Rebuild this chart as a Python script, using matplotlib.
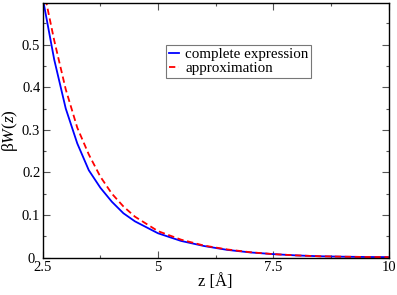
import numpy as np
import matplotlib
matplotlib.use("Agg")
import matplotlib.pyplot as plt
from matplotlib.ticker import MultipleLocator

plt.rcParams["font.family"] = ["Liberation Serif", "DejaVu Serif"]
plt.rcParams["mathtext.fontset"] = "custom"
plt.rcParams["mathtext.rm"] = "Liberation Serif"
plt.rcParams["mathtext.it"] = "Liberation Serif:italic"

# values
z = [2.5, 2.75, 3.0, 3.25, 3.5, 3.75, 4.0, 4.25, 4.5, 5.0, 5.5,
     6.0, 6.5, 7.0, 7.5, 8.0, 8.5, 9.0, 9.5, 10.0]
w_complete = [0.61, 0.465, 0.35, 0.268, 0.205, 0.164, 0.131, 0.104, 0.085,
              0.057, 0.039, 0.027, 0.018, 0.012, 0.008, 0.005, 0.003,
              0.002, 0.0013, 0.001]
w_approx = [0.64, 0.51, 0.395, 0.305, 0.242, 0.19, 0.15, 0.12, 0.096,
            0.062, 0.042, 0.028, 0.019, 0.0125, 0.008, 0.005, 0.003,
            0.002, 0.0013, 0.001]

fig = plt.figure(figsize=(3.97, 2.95), dpi=100)
ax = fig.add_axes([0.1075, 0.127, 0.8715, 0.863])

ax.plot(z, w_complete, color="#0000ff", lw=1.3, label="complete expression")
ax.plot(z, w_approx, color="#ff0000", lw=1.3, ls=(0, (3.5, 2)),
        label="approximation")

ax.set_xlim(2.5, 10)
ax.set_ylim(0, 0.598)
ax.xaxis.set_minor_locator(MultipleLocator(1.25))
ax.yaxis.set_minor_locator(MultipleLocator(0.05))
ax.set_xticks([2.5, 5, 7.5, 10])
ax.set_xticklabels(["2.5", "5", "7.5", "10"])
ax.set_yticks([0, 0.1, 0.2, 0.3, 0.4, 0.5])
ax.set_yticklabels(["0", "0.1", "0.2", "0.3", "0.4", "0.5"])
ax.tick_params(which="both", direction="in", top=True, right=True,
               labelsize=10.5, width=0.8, color="#555555")
ax.tick_params(axis="x", pad=2.5)
# grace centres the y tick labels
ax.tick_params(axis="y", pad=8.3)
for lab in ax.get_yticklabels():
    lab.set_horizontalalignment("center")
ax.tick_params(which="major", length=5)
ax.tick_params(which="minor", length=2.5)
for s in ax.spines.values():
    s.set_linewidth(1.0)

ax.set_xlabel("z [Å]", fontsize=12, labelpad=0)
ax.set_ylabel("β$W(z)$", fontsize=12.5)
ax.yaxis.set_label_coords(-0.066, 0.5)

leg = ax.legend(loc="upper left", bbox_to_anchor=(0.355, 0.835), fontsize=10.8,
                frameon=True, fancybox=False, handlelength=0.7,
                handletextpad=0.4, borderpad=0.2, labelspacing=0.02,
                borderaxespad=0)
leg.get_frame().set_edgecolor("#555555")
leg.get_frame().set_linewidth(0.8)

fig.savefig("out.png", dpi=100)
